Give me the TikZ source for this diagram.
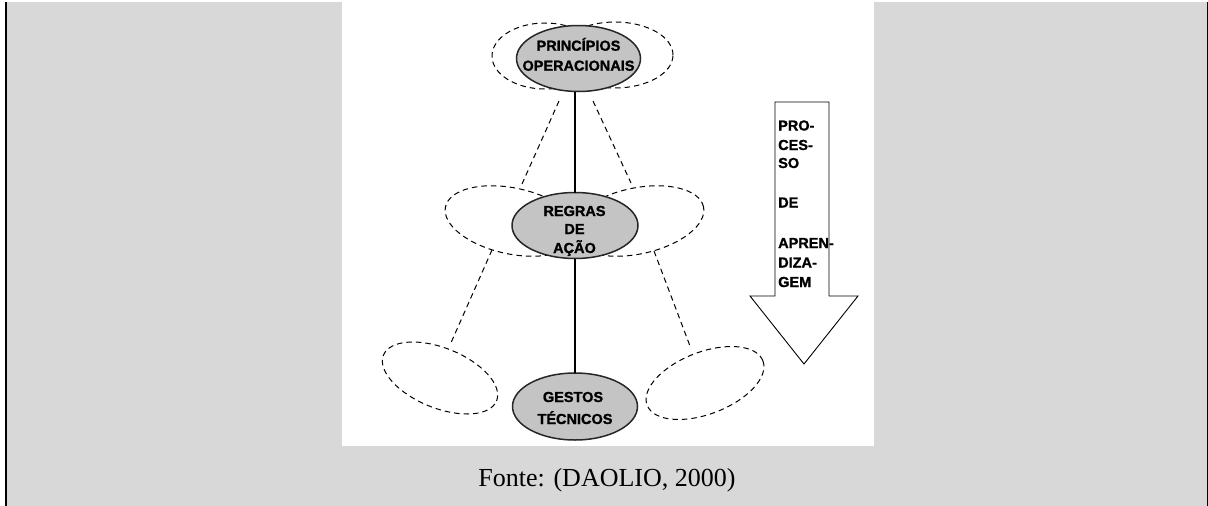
\documentclass[tikz,border=0pt]{standalone}
\usepackage{fontspec}
\setmainfont{Liberation Serif}
\newfontfamily\dsans[FakeBold=1.2]{Liberation Sans Bold}
\usetikzlibrary{shapes.geometric}
\definecolor{bggray}{RGB}{216,216,216}
\definecolor{ellgray}{RGB}{196,196,196}
\begin{document}
\begin{tikzpicture}[x=1pt,y=-1pt,
  petal/.style={draw=black, dash pattern=on 5.5pt off 4pt, line width=1pt, ellipse, inner sep=0pt, outer sep=0pt},
  core/.style={draw=black!85, line width=1.5pt, fill=ellgray, ellipse, inner sep=0pt, outer sep=0pt},
  lbl/.style={font=\dsans\fontsize{14.5}{16}\selectfont, inner sep=0pt, anchor=base},
  dashline/.style={dash pattern=on 5.5pt off 4pt, line width=1pt},
  solidline/.style={line width=1.2pt}]
\useasboundingbox (0,0) rectangle (1208,506);
% frame and background
\fill[bggray] (0,0) rectangle (1208,506);
\fill[white] (0,0) rectangle (1208,1.7);
\fill[white] (0,0) rectangle (5,506);
\fill[black] (5,1.7) rectangle (7,506);
\fill[black] (1206.5,1.7) rectangle (1208,506);
\fill[white] (342,0) rectangle (874,446);
% dashed petals
\node[petal, minimum width=106, minimum height=66] (tl) at (545,56) {};
\node[petal, minimum width=116, minimum height=66] (tr) at (615,55) {};
\node[petal, minimum width=136, minimum height=66, rotate=-12] (ml) at (512,221) {};
\node[petal, minimum width=136, minimum height=66, rotate=12] (mr) at (637,221) {};
\node[petal, minimum width=122, minimum height=60, rotate=-22] (bl) at (440,378) {};
\node[petal, minimum width=124, minimum height=62, rotate=21] (br) at (705,383) {};
% dashed connectors
\coordinate (a1) at (559,101); \coordinate (a2) at (522,184);
\coordinate (b1) at (593,101); \coordinate (b2) at (631,183);
\coordinate (c1) at (492,250); \coordinate (c2) at (450,345);
\coordinate (d1) at (654,251); \coordinate (d2) at (690,346);
\draw[dashline] (a1) -- (a2);
\draw[dashline] (b1) -- (b2);
\draw[dashline] (c1) -- (c2);
\draw[dashline] (d1) -- (d2);
% core ellipses
\node[core, minimum width=124, minimum height=66] (p1) at (578.5,58.5) {};
\node[core, minimum width=126, minimum height=66] (p2) at (575,225.5) {};
\node[core, minimum width=125, minimum height=67] (p3) at (575,406.5) {};
\draw[solidline] (p1.south -| p2.north) -- (p2.north);
\draw[solidline] (p2.south) -- (p3.north);
% labels
\node[lbl] (l1a) at (578.5,50.7) {PRINCÍPIOS};
\node[lbl] (l1b) at (578.5,70.7) {OPERACIONAIS};
\node[lbl] (l2a) at (574.5,216) {REGRAS};
\node[lbl] (l2b) at (574.5,234) {DE};
\node[lbl] (l2c) at (574.5,253) {AÇÃO};
\node[lbl] (l3a) at (573,402) {GESTOS};
\node[lbl] (l3b) at (575,424) {TÉCNICOS};
% arrow
\draw[line width=0.9pt, fill=white] (775,102) -- (829,102) -- (829,296) -- (858,296) -- (804,364) -- (750,296) -- (775,296) -- cycle;
\foreach \t/\y/\n in {PRO-/130.5/t1, CES-/150/t2, SO/168/t3, DE/207.5/t4, APREN-/248/t5, DIZA-/267.5/t6, GEM/287/t7}
  \node[lbl, anchor=base west] (\n) at (778,\y) {\t};
% caption
\node[font=\fontsize{26}{30}\selectfont, anchor=base, inner sep=0pt] (cap) at (607,486) {Fonte: (DAOLIO, 2000)};
\end{tikzpicture}
\end{document}
